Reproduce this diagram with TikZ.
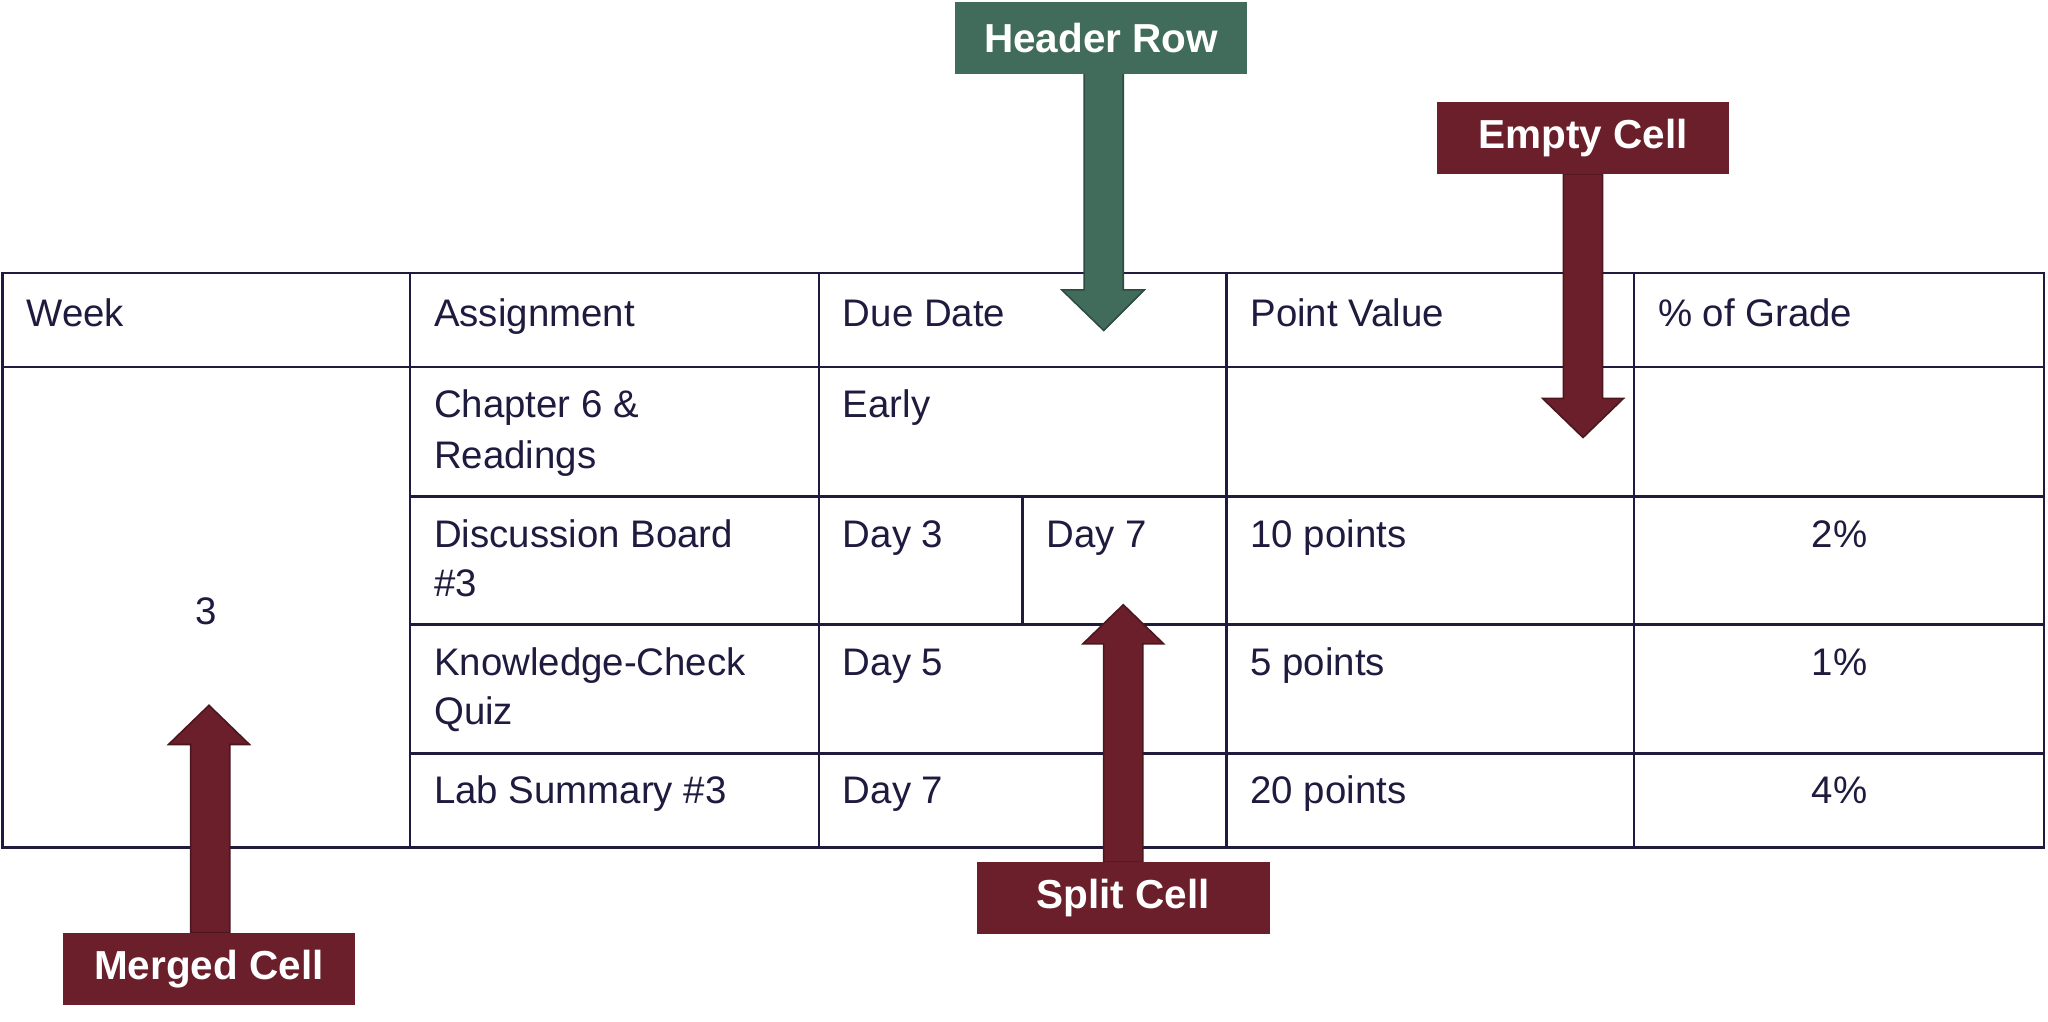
\documentclass[tikz,border=0pt]{standalone}
\usepackage{fontspec}
\setmainfont{Liberation Sans}
\definecolor{grid}{HTML}{1F1B3F}
\definecolor{hdr}{HTML}{416B5A}
\definecolor{red}{HTML}{6B1F2A}
\begin{document}
\begin{tikzpicture}[x=0.5pt,y=-0.5pt,
  cell/.style={anchor=base west,font=\fontsize{14.7}{17}\selectfont,text=grid,inner sep=0pt},
  lab/.style={font=\bfseries\fontsize{15.5}{17}\selectfont,text=white,minimum width=112pt,minimum height=27.5pt,inner sep=0pt},
  arr/.style={draw=#1!70!black,line width=0.6pt,fill=#1}]
\useasboundingbox (0,0) rectangle (1568,782);
% table
\draw[grid,line width=1pt] (2,209) rectangle (1565,649);
\draw[grid,line width=1pt] (2,281) -- (1565,281);
\foreach \y in {380,478,577} \draw[grid,line width=1pt] (314,\y) -- (1565,\y);
\foreach \x in {314,627,939,1251} \draw[grid,line width=1pt] (\x,209) -- (\x,649);
\draw[grid,line width=1pt] (783,380) -- (783,478);
% texts
\node[cell] (t1) at (20,250) {Week};
\node[cell] (t2) at (332,250) {Assignment};
\node[cell] (t3) at (645,250) {Due Date};
\node[cell] (t4) at (957,250) {Point Value};
\node[cell] (t5) at (1269,250) {\% of Grade};
\node[cell,anchor=base] (w) at (158,478) {3};
\node[cell] (a1) at (332,320) {Chapter 6 \&};
\node[cell] (a1b) at (332,359) {Readings};
\node[cell] (d1) at (645,320) {Early};
\node[cell] (a2) at (332,419) {Discussion Board};
\node[cell] (a2b) at (332,457) {\#3};
\node[cell] (d2) at (645,419) {Day 3};
\node[cell] (d2b) at (801,419) {Day 7};
\node[cell] (p2) at (957,419) {10 points};
\node[cell,anchor=base east] (g2) at (1430,419) {2\%};
\node[cell] (a3) at (332,517) {Knowledge-Check};
\node[cell] (a3b) at (332,555) {Quiz};
\node[cell] (d3) at (645,517) {Day 5};
\node[cell] (p3) at (957,517) {5 points};
\node[cell,anchor=base east] (g3) at (1430,517) {1\%};
\node[cell] (a4) at (332,615) {Lab Summary \#3};
\node[cell] (d4) at (645,615) {Day 7};
\node[cell] (p4) at (957,615) {20 points};
\node[cell,anchor=base east] (g4) at (1430,615) {4\%};
% arrows
\draw[arr=hdr] (830,56) -- (860,56) -- (860,222) -- (876,222) -- (845,253) -- (813,222) -- (830,222) -- cycle;
\draw[arr=red] (1197,133) -- (1227,133) -- (1227,305) -- (1243,305) -- (1212,335) -- (1181,305) -- (1197,305) -- cycle;
\draw[arr=red] (845,660) -- (875,660) -- (875,493) -- (891,493) -- (860,463) -- (829,493) -- (845,493) -- cycle;
\draw[arr=red] (146,714) -- (176,714) -- (176,570) -- (191,570) -- (160,540) -- (129,570) -- (146,570) -- cycle;
% labels
\node[lab,fill=hdr] (h) at (843,29) {Header Row};
\node[lab,fill=red] (e) at (1212,105.5) {Empty Cell};
\node[lab,fill=red] (s) at (860,687.5) {Split Cell};
\node[lab,fill=red] (m) at (160,742) {Merged Cell};
\end{tikzpicture}
\end{document}
